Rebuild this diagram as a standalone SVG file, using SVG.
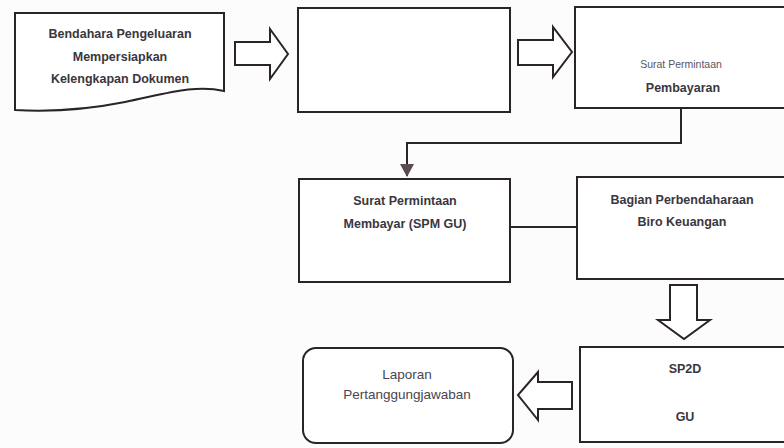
<svg xmlns="http://www.w3.org/2000/svg" width="784" height="448" viewBox="0 0 784 448">
<style>
.box{fill:#ffffff;stroke:#2a2426;stroke-width:2}
.arr{fill:#ffffff;stroke:#2a2426;stroke-width:2;stroke-linejoin:miter}
.ln{fill:none;stroke:#2a2426;stroke-width:2}
text{font-family:"Liberation Sans",Arial,sans-serif;font-size:12.5px;font-weight:bold;fill:#3a3640;text-anchor:middle}
.sm{font-size:10.5px;font-weight:normal;fill:#5a5560}
.lt{font-weight:normal;fill:#4a4550;font-size:13.5px}
</style>
<rect width="784" height="448" fill="#fcfcfc"/>
<g id="connectors">
<path class="ln" d="M681,108 V143 H407 V176"/>
<path d="M400,164 L414,164 L407,177 Z" fill="#5a4c52"/>
<path class="ln" d="M510,227 H577"/>
<path id="arrow1" class="arr" d="M235,42 H270 V29 L288,54 L270,79 V65 H235 Z"/>
<path id="arrow2" class="arr" d="M518,40 H553 V27 L572,52 L553,77 V65 H518 Z"/>
<path id="arrow3" class="arr" d="M670,285 H697 V320 H710 L684,339 L658,320 H670 Z"/>
<path id="arrow4" class="arr" d="M572,382 H538 V372 L518,395 L538,420 V409 H572 Z"/>
</g>
<g id="node1">
<path class="box" d="M15,13 H224 V91 C 195,84 165,94 125,102 C 85,110 50,112 15,110 Z"/>
<text x="120" y="38">Bendahara Pengeluaran</text>
<text x="120" y="61">Mempersiapkan</text>
<text x="120" y="83">Kelengkapan Dokumen</text>
</g>
<g id="node2">
<rect class="box" x="298" y="8" width="212" height="104"/>
</g>
<g id="node3">
<rect class="box" x="575" y="7" width="210" height="101"/>
<text x="681" y="68" class="sm">Surat Permintaan</text>
<text x="683" y="92">Pembayaran</text>
</g>
<g id="node4">
<rect class="box" x="299" y="179" width="211" height="103"/>
<text x="405" y="205">Surat Permintaan</text>
<text x="405" y="228">Membayar (SPM GU)</text>
</g>
<g id="node5">
<rect class="box" x="577" y="177" width="208" height="102"/>
<text x="682" y="204">Bagian Perbendaharaan</text>
<text x="682" y="226">Biro Keuangan</text>
</g>
<g id="node6">
<rect class="box" x="580" y="347" width="205" height="95"/>
<text x="685" y="373">SP2D</text>
<text x="685" y="421">GU</text>
</g>
<g id="node7">
<rect class="box" x="303" y="348" width="210" height="95" rx="13" ry="13"/>
<text x="407" y="379" class="lt">Laporan</text>
<text x="407" y="399" class="lt">Pertanggungjawaban</text>
</g>
</svg>
